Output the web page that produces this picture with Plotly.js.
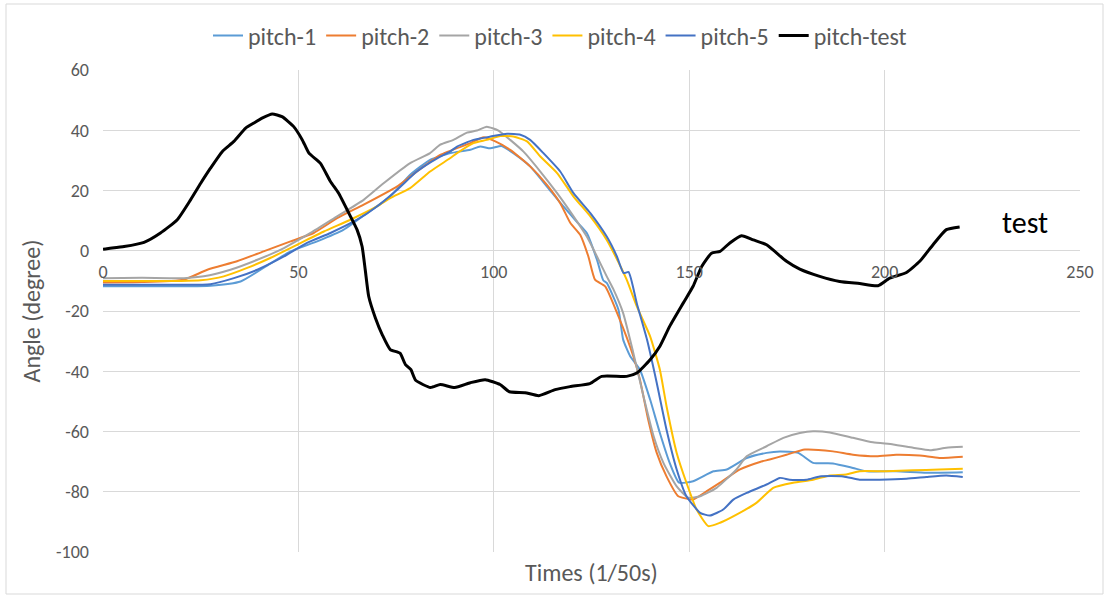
<!DOCTYPE html>
<html>
<head>
<meta charset="utf-8">
<script src="https://cdn.plot.ly/plotly-3.0.1.min.js"></script>
<style>html,body{margin:0;padding:0;background:#fff;}#chart{width:1106px;height:598px;}</style>
</head>
<body>
<div id="chart"></div>
<script>
// ---- data ----
var xTicks = [0, 50, 100, 150, 200, 250];
var yTicks = [-100, -80, -60, -40, -20, 0, 20, 40, 60];

var pitch1X = [0, 10, 20, 27.5, 35.2, 43, 48, 54.8, 61.6, 67.6, 73.5, 78.6, 83.7, 88.9, 94, 96.5, 99.1, 102, 105, 109.3, 113.6, 117.8, 121.2, 123.8, 126.4, 128, 128.9, 131.9, 133.1, 134.9, 137.4, 140, 142.5, 145, 147.4, 151, 156.2, 159.6, 164.7, 169.8, 173.2, 177.9, 181.7, 186.8, 191.9, 195.4, 203, 210.7, 220];
var pitch1Y = [-11.8, -11.8, -11.8, -11.6, -10.2, -4.1, -0.2, 3.1, 7, 12.5, 18, 25.2, 30.2, 32.4, 33.5, 34.6, 34, 34.8, 32.4, 28, 21.3, 14.7, 9.7, 5.9, -3, -9.8, -10.7, -19.6, -29.5, -35, -39.5, -49.4, -60.5, -70.4, -77, -76.5, -73.2, -72.6, -68.8, -67.1, -66.6, -67.1, -70.4, -70.6, -72.1, -73.2, -73.2, -73.7, -73.5];

var pitch2X = [0, 10, 20.7, 26.7, 34.3, 41.1, 48, 53.9, 59.9, 66.7, 75.2, 78.6, 86.3, 94, 97.4, 100.4, 104.2, 109.3, 113.6, 117, 119.6, 122.1, 124.2, 125.9, 128.5, 131.9, 135.7, 137.4, 139.5, 141.7, 144.2, 147.2, 149.8, 151, 154.5, 157.9, 163, 168.1, 170.6, 174.9, 179.6, 186.8, 191.9, 197.9, 203, 209, 214, 220];
var pitch2Y = [-10.5, -10.4, -9.6, -6.3, -3.5, -0.2, 3.1, 5.9, 10.8, 15.3, 21.3, 24.6, 31.8, 35.7, 37.7, 36.3, 33.5, 28, 21.9, 15.8, 9.2, 5.3, -1.9, -9.6, -11.8, -21.8, -35, -42.8, -56, -67.1, -74.9, -81.5, -82.4, -82.6, -79.8, -77, -72.6, -70.1, -69.3, -67.7, -66, -66.6, -67.7, -68.2, -67.7, -68, -68.8, -68.4];

var pitch3X = [0, 10, 20.7, 25.8, 32.6, 39.5, 46.3, 53.1, 59.9, 66.7, 71.8, 78.6, 83.7, 86.3, 89.7, 93.1, 95.7, 98.2, 101.2, 104.2, 107.6, 111.9, 116.2, 120.4, 123.8, 126.4, 128.9, 130.5, 133.1, 135.7, 138.3, 140.9, 143.4, 146.8, 149.8, 152.8, 157, 162.1, 164.7, 169.8, 174.1, 178.3, 181.7, 186, 191.9, 197, 202.2, 207.3, 211.6, 215.8, 220];
var pitch3Y = [-9.1, -9, -9.1, -8.5, -6.3, -3, 0.9, 5.9, 11.4, 16.9, 22.4, 29.1, 32.4, 35.2, 36.8, 39.2, 39.9, 41.2, 39.9, 36.8, 32.9, 26.3, 19.1, 11.4, 4.7, -1.9, -8.5, -12.5, -20.7, -33.9, -48.3, -61.6, -70.4, -78.2, -82, -81.5, -78.7, -72.6, -68.2, -64.9, -62.1, -60.5, -59.9, -60.3, -62.1, -63.6, -64.3, -65.4, -66.2, -65.4, -65.1];

var pitch4X = [0, 10, 20, 25, 30.9, 36.9, 42.8, 49.7, 56.5, 63.3, 70.1, 73.5, 78.6, 83.7, 88.8, 90.6, 94.8, 98.2, 101.7, 105, 108.5, 111.9, 116.2, 120.4, 124.7, 128.9, 131, 134, 136.6, 140, 142.5, 144.2, 146.8, 149.3, 151.9, 154.9, 157.9, 162.1, 167.2, 171.5, 176.6, 181.7, 186, 190.2, 193.6, 200.4, 207.3, 214, 220];
var pitch4Y = [-10, -10, -10, -9.8, -8.5, -5.7, -2.4, 2, 6.4, 10.3, 14.7, 17.5, 20.8, 26.3, 30.7, 32.4, 35.7, 36.8, 38.1, 37.9, 36.3, 31.3, 25.8, 18, 11.4, 3.6, -1.5, -9.6, -18.5, -28.4, -39.5, -51.6, -67.1, -77, -85.9, -91.4, -90.3, -87.6, -83.7, -78.7, -77, -76, -74.6, -74.3, -73.2, -73.2, -72.9, -72.6, -72.4];

var pitch5X = [0, 10, 20, 27.5, 33.5, 39.5, 46.3, 52.2, 58.2, 65, 70.1, 75.2, 80.3, 85.5, 88.8, 90.6, 94.8, 99.1, 103.4, 106.8, 109.3, 112.7, 117, 120.4, 124.7, 128.9, 131.5, 133.2, 134.5, 136.6, 139.2, 141.7, 144.2, 146.8, 149.3, 152.8, 155.3, 158.7, 161.3, 164.7, 169.8, 173.2, 175.7, 180, 183.4, 189.4, 193.6, 198.7, 205.6, 210.7, 215.8, 220];
var pitch5Y = [-11.3, -11.3, -11.3, -11.1, -9.1, -6.3, -1.9, 2.6, 5.9, 10.3, 14.7, 20.2, 26.3, 30.7, 32.9, 34.6, 36.8, 37.9, 38.8, 38.5, 36.8, 32.4, 26.3, 19.1, 12.5, 4.7, -1.9, -7.4, -7.1, -17.5, -29.5, -43.9, -59.4, -72.6, -81.5, -87, -87.9, -85.9, -82.6, -80.4, -77.6, -75.4, -76, -76, -74.9, -74.9, -76, -76, -75.7, -75.1, -74.6, -75.1];

var testX = [0, 1, 5.4, 10.5, 14.7, 19, 22.4, 25, 27.5, 30.5, 33.5, 36.5, 38.6, 40.7, 43.3, 45.8, 48.8, 51, 52.7, 55.6, 58.2, 60.3, 62.9, 65, 66.3, 67.1, 68, 69.7, 71.5, 73.5, 76, 77.4, 78.8, 80, 83.8, 86.3, 90, 94, 97.8, 101.6, 104, 108, 111.5, 115.7, 119.5, 124.6, 127.6, 134, 136.6, 140, 142.5, 145, 148.5, 151, 153.2, 155.7, 157.9, 160.4, 163.4, 166.4, 169.8, 174.9, 178.3, 183.4, 188.5, 193.6, 198.3, 201.3, 205.6, 209, 212.4, 215.8, 219.2];
var testY = [0.5, 0.7, 1.4, 2.8, 5.9, 10.3, 16.9, 22.4, 27.4, 32.9, 36.3, 40.7, 42.4, 44, 45.4, 44.5, 41.2, 36.8, 32.4, 29.1, 23, 19.1, 12.5, 7, 1.4, -6.3, -15.2, -22.3, -28, -32.8, -34, -37.8, -39.5, -43, -45.4, -44.4, -45.4, -43.8, -42.8, -44.4, -46.8, -47.1, -48.1, -46.1, -45.1, -44.1, -41.7, -41.7, -40.6, -36.2, -31.7, -25.1, -17.3, -11.8, -5.2, -0.8, -0.2, 2.6, 5, 3.6, 2, -3.5, -6.1, -8.5, -10.2, -10.9, -11.6, -9.1, -7.2, -3.5, 2, 7, 7.9];

var seriesNames = ['pitch-1', 'pitch-2', 'pitch-3', 'pitch-4', 'pitch-5', 'pitch-test'];
var seriesColors = ['#5B9BD5', '#ED7D31', '#A5A5A5', '#FFC000', '#4472C4', '#000000'];
var xTitle = 'Times (1/50s)';
var yTitle = 'Angle (degree)';
var endLabel = 'test';

// ---- build ----
var xs = [pitch1X, pitch2X, pitch3X, pitch4X, pitch5X, testX];
var ys = [pitch1Y, pitch2Y, pitch3Y, pitch4Y, pitch5Y, testY];
var FONT = "Carlito, 'Liberation Sans Narrow', 'Liberation Sans', sans-serif";
var traces = xs.map(function (x, i) {
  return {
    x: x, y: ys[i], type: 'scatter', mode: 'lines', name: seriesNames[i],
    line: {color: seriesColors[i], width: i === 5 ? 3 : 2, shape: 'spline', smoothing: 0.5}
  };
});

var yMin = -100, yMax = 60;
var layout = {
  width: 1106, height: 598,
  margin: {l: 103, r: 26, t: 70, b: 46},
  paper_bgcolor: '#ffffff', plot_bgcolor: '#ffffff',
  font: {family: FONT, color: '#595959'},
  showlegend: true,
  legend: {
    orientation: 'h', x: 560 / 1106, xanchor: 'center', xref: 'container',
    y: 1 - 36 / 598, yanchor: 'middle', yref: 'container',
    font: {size: 24, color: '#595959', family: FONT},
    itemwidth: 30,
    bgcolor: 'rgba(0,0,0,0)'
  },
  xaxis: {
    range: [0, 250], tickvals: xTicks, ticktext: xTicks.map(String),
    showgrid: true, gridcolor: '#d9d9d9', gridwidth: 1,
    zeroline: false, showline: false, ticks: '',
    anchor: 'free', position: (0 - yMin) / (yMax - yMin),
    tickfont: {size: 18, color: '#595959', family: FONT},
    ticklabelstandoff: 8
  },
  yaxis: {
    range: [yMin, yMax], tickvals: yTicks, ticktext: yTicks.map(String),
    showgrid: true, gridcolor: '#d9d9d9', gridwidth: 1,
    zeroline: false, showline: false, ticks: '',
    tickfont: {size: 18, color: '#595959', family: FONT},
    ticklabelstandoff: 13,
    title: {text: yTitle, font: {size: 24, color: '#595959', family: FONT}, standoff: 8}
  },
  annotations: [
    {
      text: xTitle, xref: 'paper', yref: 'paper', x: 0.5, y: 0,
      xanchor: 'center', yanchor: 'top', yshift: -4, showarrow: false,
      font: {size: 24, color: '#595959', family: FONT}
    },
    {
      text: endLabel, xref: 'x', yref: 'y',
      x: testX[testX.length - 1], y: testY[testY.length - 1],
      xanchor: 'left', yanchor: 'middle', xshift: 40, yshift: 4, showarrow: false,
      font: {size: 30, color: '#000000', family: FONT}
    }
  ],
  shapes: [
    {type: 'rect', xref: 'paper', yref: 'paper',
     x0: (6 - 103) / 977, x1: (1103 - 103) / 977, y0: -(594 - 552) / 482, y1: 1 + (70 - 4) / 482,
     line: {color: '#d9d9d9', width: 1}, fillcolor: 'rgba(0,0,0,0)', layer: 'below'}
  ]
};

Plotly.newPlot('chart', traces, layout, {displayModeBar: false, staticPlot: true});
</script>
</body>
</html>
